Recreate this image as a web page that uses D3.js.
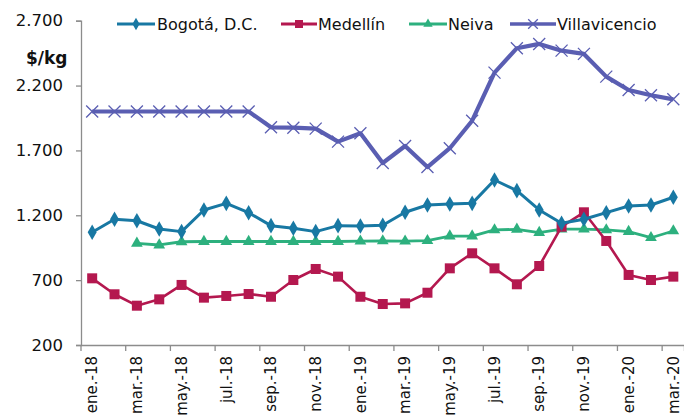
<!DOCTYPE html>
<html><head><meta charset="utf-8">
<script src="https://cdn.jsdelivr.net/npm/d3@7"></script>
<style>body{margin:0;background:#fff}svg{display:block}text{font-family:"DejaVu Sans",sans-serif;fill:#111}</style>
</head><body><svg id="c" width="684" height="417"></svg>
<script>
const months = ["ene.-18","feb.-18","mar.-18","abr.-18","may.-18","jun.-18","jul.-18","ago.-18","sep.-18","oct.-18","nov.-18","dic.-18",
"ene.-19","feb.-19","mar.-19","abr.-19","may.-19","jun.-19","jul.-19","ago.-19","sep.-19","oct.-19","nov.-19","dic.-19",
"ene.-20","feb.-20","mar.-20"];
const bogota = [1069,1169,1158,1094,1074,1241,1292,1220,1120,1100,1074,1120,1118,1123,1223,1279,1287,1292,1472,1390,1241,1138,1169,1220,1272,1279,1339];
const medellin = [714,591,503,552,663,565,578,593,572,701,786,727,572,516,521,603,791,907,791,668,809,1112,1223,1002,740,701,727];
const neiva = [null,null,984,971,996,998,998,998,998,998,998,998,1000,1002,1000,1004,1040,1040,1087,1092,1066,1094,1094,1087,1074,1027,1079];
const villavicencio = [2000,2000,2000,2000,2000,2000,2000,2000,1878,1875,1868,1768,1832,1603,1734,1572,1717,1929,2300,2488,2521,2469,2444,2269,2166,2125,2094];
const yTicks = [200,700,1200,1700,2200,2700];
const seriesNames = ["Bogotá, D.C.","Medellín","Neiva","Villavicencio"];

const svg = d3.select("#c");
const L = 81, R = 684.5, T = 20.7, B = 345;
const x = d3.scaleBand().domain(months).range([L, R]).padding(0);
const y = d3.scaleLinear().domain([200, 2700]).range([B, T]);
const fmt = v => d3.format(",")(v).replace(/,/g, ".");
const axisColor = "#8c8c8c";

// Y axis
const ya = svg.append("g").attr("transform", `translate(${L},0)`)
  .call(d3.axisLeft(y).tickValues(yTicks).tickSize(5).tickPadding(13).tickFormat(fmt));
ya.select(".domain").attr("stroke", axisColor).attr("stroke-width", 1.3);
ya.selectAll(".tick line").attr("stroke", axisColor).attr("stroke-width", 1.3);
ya.selectAll("text").style("font-size", "16.5px").attr("fill", "#111");

// X axis
const xa = svg.append("g").attr("transform", `translate(0,${B})`)
  .call(d3.axisBottom(x).tickValues([]).tickSize(0));
xa.select(".domain").attr("stroke", axisColor).attr("stroke-width", 1.3);
const bounds = months.map((m, i) => i).filter(i => i % 2 === 0).map(i => x(months[i]));
bounds.push(x(months[26]) + x.bandwidth());
xa.selectAll(".btick").data(bounds).join("line").attr("class","btick")
  .attr("x1", d => d).attr("x2", d => d).attr("y1", 0).attr("y2", 6)
  .attr("stroke", axisColor).attr("stroke-width", 1.3);
xa.selectAll(".xl").data(months.filter((m, i) => i % 2 === 0)).join("text").attr("class","xl")
  .attr("transform", d => `translate(${x(d) + x.bandwidth()/2},11) rotate(-90)`)
  .attr("text-anchor", "end").attr("dy", "0.35em").style("font-size", "15px").text(d => d);

// unit label
svg.append("text").attr("x", 26).attr("y", 64).style("font-size", "17px").style("font-weight", "bold").text("$/kg");

const cx = (d, i) => x(months[i]) + x.bandwidth()/2;
const line = d3.line().defined(d => d != null).x(cx).y(d => y(d));

const colors = {b:"#1878a3", m:"#b4184f", n:"#2db07e", v:"#5a5eb2"};

function marker(g, type, color, px, py, s) {
  s = s || 1;
  if (type === "diamond") {
    g.append("path").attr("d", d3.symbol(d3.symbolDiamond, 70*s*s)()).attr("transform", `translate(${px},${py})`)
      .attr("fill", color);
  } else if (type === "square") {
    const h = 5*s;
    g.append("rect").attr("x", px-h).attr("y", py-h).attr("width", 2*h).attr("height", 2*h).attr("fill", color);
  } else if (type === "triangle") {
    g.append("path").attr("d", d3.symbol(d3.symbolTriangle, 60*s*s)()).attr("transform", `translate(${px},${py})`).attr("fill", color);
  } else if (type === "x") {
    const h = 6*s;
    g.append("path").attr("d", `M${px-h},${py-h}L${px+h},${py+h}M${px-h},${py+h}L${px+h},${py-h}`)
      .attr("stroke", color).attr("stroke-width", 1.3).attr("fill", "none");
  }
}

function drawSeries(data, color, width, type) {
  const g = svg.append("g");
  g.append("path").datum(data).attr("d", line).attr("fill", "none").attr("stroke", color)
    .attr("stroke-width", width).attr("stroke-linejoin", "round");
  data.forEach((d, i) => { if (d != null) marker(g, type, color, cx(d, i), y(d)); });
}
drawSeries(neiva, colors.n, 2.8, "triangle");
drawSeries(medellin, colors.m, 2.6, "square");
drawSeries(bogota, colors.b, 3, "diamond");
drawSeries(villavicencio, colors.v, 4.2, "x");

// legend
const leg = [
  {name: seriesNames[0], c: colors.b, t: "diamond", x0: 117, x1: 155, tx: 157, w: 3},
  {name: seriesNames[1], c: colors.m, t: "square", x0: 281, x1: 317, tx: 318, w: 2.8},
  {name: seriesNames[2], c: colors.n, t: "triangle", x0: 409, x1: 447, tx: 448, w: 2.8},
  {name: seriesNames[3], c: colors.v, t: "x", x0: 510, x1: 556, tx: 557, w: 3.6}
];
leg.forEach(l => {
  const g = svg.append("g");
  g.append("line").attr("x1", l.x0).attr("x2", l.x1).attr("y1", 24).attr("y2", 24)
    .attr("stroke", l.c).attr("stroke-width", l.w);
  marker(g, l.t, l.c, (l.x0 + l.x1) / 2, 24, 0.8);
  g.append("text").attr("x", l.tx).attr("y", 24).attr("dy", "0.35em").style("font-size", "16px").text(l.name);
});
</script></body></html>
